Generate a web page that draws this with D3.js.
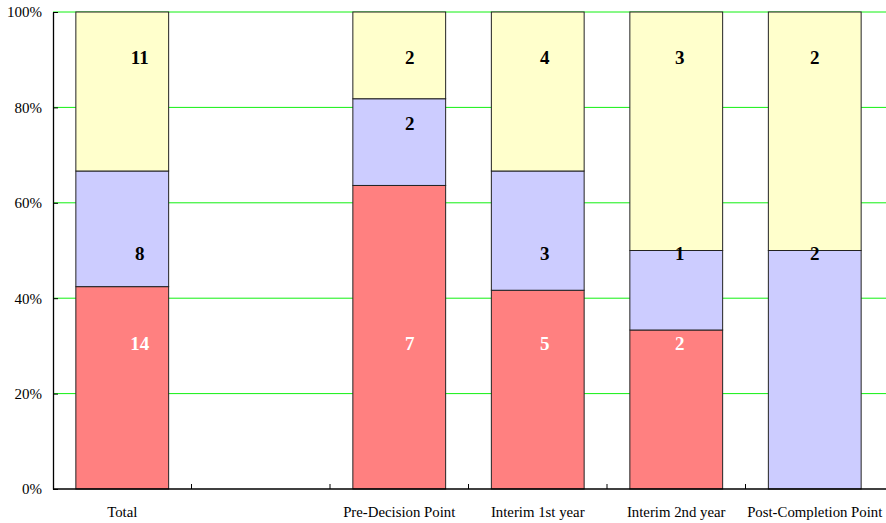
<!DOCTYPE html>
<html>
<head>
<meta charset="utf-8">
<script src="https://cdn.jsdelivr.net/npm/d3@7/dist/d3.min.js"></script>
<style>
  html, body { margin: 0; padding: 0; background: #fff; }
  svg { display: block; }
  text { font-family: "Liberation Serif", "Times New Roman", serif; }
</style>
</head>
<body>
<svg id="chart" width="886" height="523"></svg>
<script>
// Categories along the x axis (the second slot is an empty spacer column)
const categories = ["Total", "", "Pre-Decision Point", "Interim 1st year", "Interim 2nd year", "Post-Completion Point"];
// Counts per stacked segment, bottom to top
const seriesRed    = [14, null, 7, 5, 2, 0];
const seriesBlue   = [8,  null, 2, 3, 1, 2];
const seriesYellow = [11, null, 2, 4, 3, 2];
const yTicks = [0, 0.2, 0.4, 0.6, 0.8, 1.0];

const series = [
  { key: "red",    values: seriesRed,    fill: "#ff8080", text: "#ffffff", anchor: 0.306 },
  { key: "blue",   values: seriesBlue,   fill: "#ccccff", text: "#000000", anchor: 0.495 },
  { key: "yellow", values: seriesYellow, fill: "#ffffcc", text: "#000000", anchor: 0.905 }
];

const svg = d3.select("#chart");
const margin = { left: 53, top: 12, right: 2, bottom: 34 };
const W = 886, H = 523;

const x = d3.scaleBand()
  .domain(d3.range(categories.length))
  .range([margin.left, W - margin.right])
  .paddingInner(0.33)
  .paddingOuter(0.165);

const y = d3.scaleLinear().domain([0, 1]).range([H - margin.bottom, margin.top]);

// Horizontal gridlines
svg.append("g")
  .selectAll("line")
  .data(yTicks.filter(t => t > 0))
  .join("line")
  .attr("x1", margin.left).attr("x2", W)
  .attr("y1", d => y(d)).attr("y2", d => y(d))
  .attr("stroke", "#11f011").attr("stroke-width", 1);

// Stacked 100% bars
const bars = svg.append("g");
const labels = svg.append("g");
categories.forEach((c, i) => {
  const total = d3.sum(series, s => s.values[i] || 0);
  if (!total) return;
  let acc = 0;
  series.forEach(s => {
    const v = s.values[i] || 0;
    const y0 = acc / total, y1 = (acc + v) / total;
    acc += v;
    if (v <= 0) return;
    bars.append("rect")
      .attr("x", x(i)).attr("width", x.bandwidth())
      .attr("y", y(y1)).attr("height", y(y0) - y(y1))
      .attr("fill", s.fill)
      .attr("stroke", "#222").attr("stroke-width", 1);
    // label sits at the series anchor height when it lies inside the segment
    const frac = (s.anchor >= y0 && s.anchor <= y1) ? s.anchor : y0 + (y1 - y0) * 0.72;
    const shift = (categories.length - 1 - i) * 3.5;
    labels.append("text")
      .attr("x", x(i) + x.bandwidth() / 2 + shift)
      .attr("y", y(frac))
      .attr("dy", "0.35em")
      .attr("text-anchor", "middle")
      .attr("font-size", 19)
      .attr("font-weight", "bold")
      .attr("fill", s.text)
      .text(v);
  });
});

// Y axis
const yAxis = d3.axisLeft(y).tickValues(yTicks).tickFormat(d3.format(".0%"))
  .tickSizeInner(-5).tickSizeOuter(0).tickPadding(11);
const gy = svg.append("g").attr("transform", `translate(${margin.left},0)`).call(yAxis);
gy.select(".domain").attr("stroke", "#000").attr("stroke-width", 1.3);
gy.selectAll(".tick line").attr("stroke", "#000");
gy.selectAll("text").attr("font-size", 15).attr("fill", "#000")
  .style("font-family", "'Liberation Serif', 'Times New Roman', serif");

// X axis with ticks at category boundaries
const step = x.step();
const boundaries = d3.range(1, categories.length).map(i => x(i) - step * x.paddingInner() / 2);
const gx = svg.append("g");
gx.append("line")
  .attr("x1", margin.left).attr("x2", W)
  .attr("y1", y(0)).attr("y2", y(0))
  .attr("stroke", "#000").attr("stroke-width", 1.3);
gx.selectAll(".bt").data(boundaries).join("line").attr("class", "bt")
  .attr("x1", d => d).attr("x2", d => d)
  .attr("y1", y(0)).attr("y2", y(0) - 5)
  .attr("stroke", "#000");
gx.selectAll("text").data(categories).join("text")
  .attr("x", (d, i) => x(i) + x.bandwidth() / 2)
  .attr("y", H - 6)
  .attr("text-anchor", "middle")
  .attr("font-size", 14.8)
  .attr("fill", "#000")
  .text(d => d);
</script>
</body>
</html>
